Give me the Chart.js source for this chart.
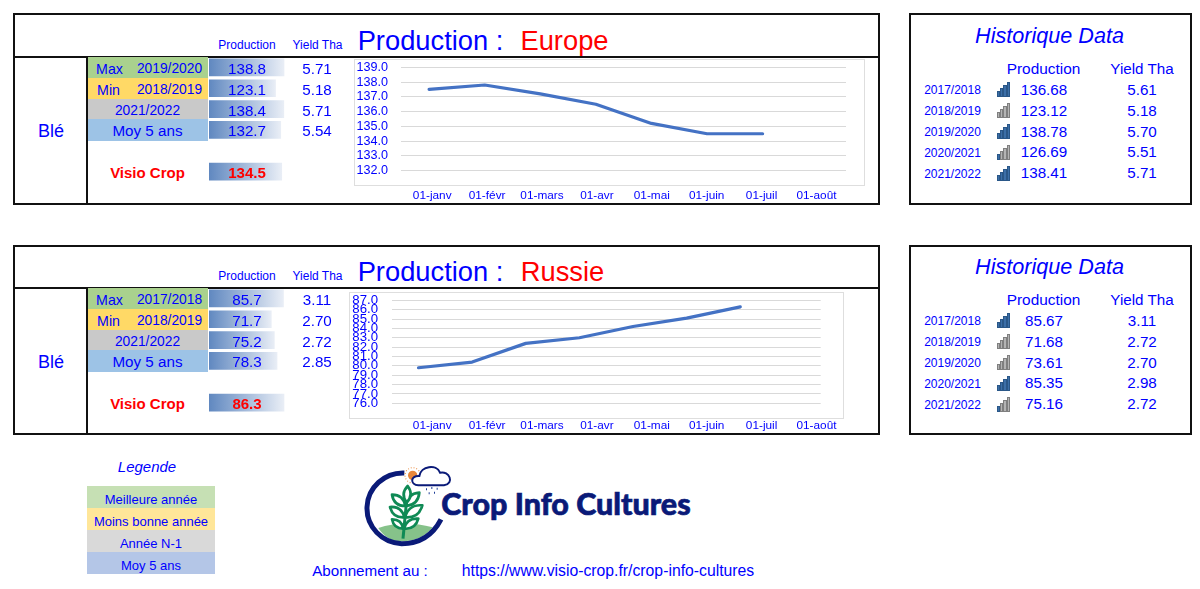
<!DOCTYPE html>
<html>
<head>
<meta charset="utf-8">
<title>Production</title>
<script src="https://cdn.jsdelivr.net/npm/chart.js@4/dist/chart.umd.min.js"></script>
<style>
	html, body { margin: 0; padding: 0; background: #fff; overflow: hidden; }
	#page { position: relative; width: 1200px; height: 589px; font-family: "Liberation Sans", Arial, sans-serif; color: #0000ff; }
	#page div, #page canvas, #page svg { position: absolute; }
	.txt { white-space: nowrap; transform: translate(-50%, -50%); line-height: 1; }
	.box { border: 2px solid #111; box-sizing: border-box; background: #fff; }
</style>
</head>
<body>
<div id="page"></div>
<script>
const months = ['01-janv', '01-févr', '01-mars', '01-avr', '01-mai', '01-juin', '01-juil', '01-août'];

const europeTrend = [137.5, 137.8, 137.2, 136.5, 135.2, 134.5, 134.5, null];
const russiaTrend = [79.8, 80.4, 82.4, 83.0, 84.2, 85.1, 86.3, null];

const europeRowYears = ['2019/2020', '2018/2019', '2021/2022'];
const europeProduction = [138.8, 123.1, 138.4, 132.7, null, 134.5];
const europeYield = ['5.71', '5.18', '5.71', '5.54'];

const russiaRowYears = ['2017/2018', '2018/2019', '2021/2022'];
const russiaProduction = [85.7, 71.7, 75.2, 78.3, null, 86.3];
const russiaYield = ['3.11', '2.70', '2.72', '2.85'];

const histYears = ['2017/2018', '2018/2019', '2019/2020', '2020/2021', '2021/2022'];
const europeHistProd = ['136.68', '123.12', '138.78', '126.69', '138.41'];
const europeHistYield = ['5.61', '5.18', '5.70', '5.51', '5.71'];
const europeHistIcons = [4, 0, 4, 1, 4];
const russiaHistProd = ['85.67', '71.68', '73.61', '85.35', '75.16'];
const russiaHistYield = ['3.11', '2.72', '2.70', '2.98', '2.72'];
const russiaHistIcons = [4, 0, 0, 4, 1];

const legendLabels = ['Meilleure année', 'Moins bonne année', 'Année N-1', 'Moy 5 ans'];
const legendColors = ['#c6e0b4', '#ffe699', '#d9d9d9', '#b4c6e7'];
const rowColors = ['#a9d18e', '#ffd966', '#c9c9c9', '#9dc3e6'];

const FONT = '"Liberation Sans", Arial, sans-serif';
const page = document.getElementById('page');

function text(x, y, str, size, extra = {}) {
	const el = document.createElement('div');
	el.className = 'txt';
	el.textContent = str;
	el.style.left = x + 'px';
	el.style.top = y + 'px';
	el.style.fontSize = size + 'px';
	Object.assign(el.style, extra);
	page.appendChild(el);
	return el;
}

function rect(x, y, w, h, style = {}, className = '') {
	const el = document.createElement('div');
	el.className = className;
	el.style.left = x + 'px';
	el.style.top = y + 'px';
	el.style.width = w + 'px';
	el.style.height = h + 'px';
	Object.assign(el.style, style);
	page.appendChild(el);
	return el;
}

function canvas(x, y, w, h) {
	const el = document.createElement('canvas');
	el.width = w;
	el.height = h;
	el.style.left = x + 'px';
	el.style.top = y + 'px';
	page.appendChild(el);
	return el;
}

// data bars of the production column, one small horizontal chart per table
function renderDataBars(top, values, axisMax) {
	new Chart(canvas(209, top, 76, 125), {
		type: 'bar',
		data: {
			labels: ['Max', 'Min', 'N-1', 'Moy', '', 'Visio Crop'],
			datasets: [{
				data: values,
				barThickness: 17,
				backgroundColor(ctx) {
					const { chart, raw } = ctx;
					// the scale has no pixels yet on the first pass
					if (raw == null || !chart.chartArea) return '#6088c0';
					const scale = chart.scales.x;
					const g = chart.ctx.createLinearGradient(scale.getPixelForValue(0), 0, scale.getPixelForValue(raw), 0);
					g.addColorStop(0, '#6088c0');
					g.addColorStop(1, '#e9eef6');
					return g;
				}
			}]
		},
		options: {
			indexAxis: 'y',
			responsive: false,
			animation: false,
			layout: { padding: 0 },
			plugins: { legend: { display: false }, tooltip: { enabled: false } },
			scales: {
				x: { display: false, min: 0, max: axisMax },
				y: { display: false }
			}
		}
	});
}

// line chart; the month labels sit on their own axis because the sheet cells
// below the chart do not line up with the chart's categories
function renderTrend(cfg) {
	const labelSpacing = 54.9;
	const labelFirst = 432.2;
	const plotLeft = cfg.x + cfg.yAxisWidth;
	new Chart(canvas(cfg.x, cfg.y, cfg.w, cfg.h), {
		type: 'line',
		data: {
			labels: months,
			datasets: [{
				data: cfg.values,
				xAxisID: 'x',
				borderColor: '#4472c4',
				borderWidth: 3.2,
				borderCapStyle: 'round',
				borderJoinStyle: 'round',
				pointRadius: 0,
				tension: 0,
				spanGaps: false
			}]
		},
		options: {
			responsive: false,
			animation: false,
			layout: { padding: { top: cfg.padTop, right: cfg.padRight, left: 0, bottom: 0 } },
			plugins: { legend: { display: false }, tooltip: { enabled: false } },
			scales: {
				x: { display: false, offset: true },
				y: {
					min: cfg.min,
					max: cfg.max,
					afterFit(s) { s.width = cfg.yAxisWidth; },
					ticks: {
						stepSize: 1,
						autoSkip: false,
						color: '#0000ff',
						padding: 0,
						font: { family: FONT, size: cfg.ySize },
						callback: v => v.toFixed(1)
					},
					border: { display: false },
					grid: { color: '#d9d9d9', lineWidth: 1, tickColor: 'transparent', tickLength: cfg.yPad }
				},
				monthAxis: {
					type: 'linear',
					position: 'bottom',
					min: (plotLeft - labelFirst) / labelSpacing,
					max: (plotLeft + cfg.plotW - labelFirst) / labelSpacing,
					afterBuildTicks(s) { s.ticks = months.map((m, i) => ({ value: i })); },
					afterFit(s) { s.height = cfg.xAxisHeight; },
					ticks: {
						autoSkip: false,
						maxRotation: 0,
						color: '#0000ff',
						padding: 0,
						font: { family: FONT, size: 11.8 },
						callback: v => months[v]
					},
					border: { display: false },
					grid: { drawOnChartArea: false, tickColor: 'transparent', tickLength: cfg.xPad }
				}
			}
		}
	});
}

function renderIcon(x, y, level) {
	const heights = [6, 9, 12, 15];
	heights.forEach((h, i) => {
		const on = i < level;
		rect(x + i * 3.2, y + 15 - h, 3.2, h, {
			background: on ? '#3c6fa8' : '#b4b4b4',
			border: '0.6px solid ' + (on ? '#2a5788' : '#7f7f7f'),
			boxSizing: 'border-box'
		});
	});
}

function renderMainPanel(cfg) {
	rect(13, cfg.top, 867, cfg.bottom - cfg.top, {}, 'box');
	rect(14, cfg.hline, 865, 2, { background: '#111' });
	rect(86, cfg.hline, 2, cfg.bottom - cfg.hline - 1, { background: '#111' });

	const d = cfg.dy;
	text(247, 44.5 + d, 'Production', 12);
	text(317.5, 44.5 + d, 'Yield Tha', 12);
	text(430.5, 40.5 + d, 'Production :', 27.3);
	text(cfg.nameX, 40.5 + d, cfg.name, 27.3, { color: '#ff0000' });

	text(51, 130.5 + d, 'Blé', 18);
	const rowY = [57, 78, 99, 119];
	const rowH = [21, 21, 20, 22];
	rowColors.forEach((c, i) => rect(88, rowY[i] + d, 120, rowH[i], { background: c }));

	text(109.5, 68.5 + d, 'Max', 14.2);
	text(169.5, 68.5 + d, cfg.years[0], 13.8);
	text(108.5, 89.5 + d, 'Min', 14.2);
	text(169.5, 89.5 + d, cfg.years[1], 13.8);
	text(147.5, 110.5 + d, cfg.years[2], 13.8);
	text(147.5, 131 + d, 'Moy 5 ans', 15.2);
	text(147.5, 172 + d, 'Visio Crop', 15, { fontWeight: 'bold', color: '#ff0000' });

	renderDataBars(57 + d, cfg.production, cfg.barMax);
	[0, 1, 2, 3].forEach(i => {
		text(247, [68.5, 89.5, 110.5, 131][i] + d, cfg.production[i].toFixed(1), 15.2);
		text(317, [68.5, 89.5, 110.5, 131][i] + d, cfg.yields[i], 15.2);
	});
	text(247, 172 + d, cfg.production[5].toFixed(1), 15, { fontWeight: 'bold', color: '#ff0000' });

	rect(cfg.frame[0], cfg.frame[1], cfg.frame[2], cfg.frame[3], { border: '1px solid #dedede', boxSizing: 'border-box' });
	renderTrend(cfg.trend);
}

function renderHistory(top, bottom, dy, prod, yields, icons) {
	rect(909, top, 283, bottom - top, {}, 'box');
	text(1049.5, 36 + dy, 'Historique Data', 21.6, { fontStyle: 'italic' });
	text(1043.5, 68.5 + dy, 'Production', 15.4);
	text(1142, 68.5 + dy, 'Yield Tha', 15.2);
	const ys = [90, 111, 132, 152.5, 173.5];
	histYears.forEach((year, i) => {
		text(952.5, ys[i] + dy, year, 12);
		renderIcon(997, ys[i] + dy - 8, icons[i]);
		text(1044, ys[i] + dy - 0.5, prod[i], 15.2);
		text(1142, ys[i] + dy - 0.5, yields[i], 15.2);
	});
}

renderMainPanel({
	top: 13, bottom: 205, hline: 56, dy: 0,
	name: 'Europe', nameX: 564.5,
	years: europeRowYears, production: europeProduction, yields: europeYield, barMax: 140.6,
	frame: [354, 59, 511, 127],
	trend: {
		x: 354, y: 59, w: 511, h: 145, values: europeTrend, min: 132, max: 139,
		yAxisWidth: 47.3, plotW: 444.7, padTop: 8.3, padRight: 19, yPad: 13.3, ySize: 12.6,
		xAxisHeight: 33.3, xPad: 18
	}
});

renderMainPanel({
	top: 245, bottom: 434.5, hline: 287, dy: 231,
	name: 'Russie', nameX: 562.5,
	years: russiaRowYears, production: russiaProduction, yields: russiaYield, barMax: 87.45,
	frame: [349, 292, 495, 127],
	trend: {
		x: 349, y: 292, w: 495, h: 142, values: russiaTrend, min: 76, max: 87,
		yAxisWidth: 42.7, plotW: 429, padTop: 8.3, padRight: 23.3, yPad: 13.7, ySize: 13.2,
		xAxisHeight: 30.7, xPad: 15
	}
});

renderHistory(13, 205, 0, europeHistProd, europeHistYield, europeHistIcons);
renderHistory(245, 434.5, 231, russiaHistProd, russiaHistYield, russiaHistIcons);

// legend block
text(147, 465.5, 'Legende', 15, { fontStyle: 'italic' });
legendLabels.forEach((label, i) => {
	rect(87, 486 + i * 22, 128, i === 3 ? 21.5 : 22, { background: legendColors[i] });
	text(151, 498.5 + i * 22, label, 13);
});

// logo icon, viewBox is 3x the page pixels
function leaf(bx, by, tx, ty) {
	const mx = (bx + tx) / 2;
	const my = (by + ty) / 2;
	const nx = (ty - by) * 0.42;
	const ny = (bx - tx) * 0.42;
	return `<path d="M${bx} ${by} Q${mx + nx} ${my + ny} ${tx} ${ty} Q${mx - nx} ${my - ny} ${bx} ${by}Z"/>`;
}
const wheat = leaf(136, 132, 96, 98) + leaf(133, 166, 90, 135) + leaf(130, 200, 96, 172)
	+ leaf(138, 132, 178, 92) + leaf(135, 166, 187, 130) + leaf(132, 200, 175, 170)
	+ leaf(140, 122, 143, 72);
const logoIcon = document.createElementNS('http://www.w3.org/2000/svg', 'svg');
logoIcon.setAttribute('viewBox', '0 0 300 258');
logoIcon.setAttribute('width', '100');
logoIcon.setAttribute('height', '86');
logoIcon.style.left = '360px';
logoIcon.style.top = '462px';
logoIcon.innerHTML = `
	<path d="M55 198 Q130 172 218 196 Q185 238 125 238 Q80 238 55 198Z" fill="#86c28a"/>
	<path d="M133 33 A108 106 0 0 0 125 245 Q205 245 243 172" fill="none" stroke="#0a1a78" stroke-width="15"/>
	<g fill="#fff" stroke="#0f8a55" stroke-width="8" stroke-linejoin="round">${wheat}</g>
	<path d="M139 125 L129 230" stroke="#0f8a55" stroke-width="9" fill="none"/>
	<circle cx="158" cy="40" r="14" fill="#e8873a"/>
	<circle cx="158" cy="40" r="23" fill="none" stroke="#e8873a" stroke-width="3.5" stroke-dasharray="2.5 6"/>
	<path d="M175 70 C150 68 150 40 178 42 C182 12 230 5 240 32 C268 25 285 65 252 70 Z" fill="#fff" stroke="#0a1a78" stroke-width="6"/>
	<path d="M198 82 h3 M214 78 h3 M230 80 h3 M206 94 h3 M222 92 h3" stroke="#1f3f98" stroke-width="6"/>
`;
page.appendChild(logoIcon);

const logoText = document.createElementNS('http://www.w3.org/2000/svg', 'svg');
logoText.setAttribute('viewBox', '0 0 1050 375');
logoText.setAttribute('width', '350');
logoText.setAttribute('height', '125');
logoText.style.left = '350px';
logoText.style.top = '455px';
logoText.innerHTML = `<text x="274" y="181" font-family="Lato, 'Open Sans', sans-serif" font-weight="900" font-size="90" fill="#0a1a78" stroke="#0a1a78" stroke-width="2" textLength="748" lengthAdjust="spacingAndGlyphs">Crop Info Cultures</text>`;
page.appendChild(logoText);

text(370, 570.5, 'Abonnement au :', 15.2);
text(608, 570.5, 'https://www.visio-crop.fr/crop-info-cultures', 15.75);
</script>
</body>
</html>
